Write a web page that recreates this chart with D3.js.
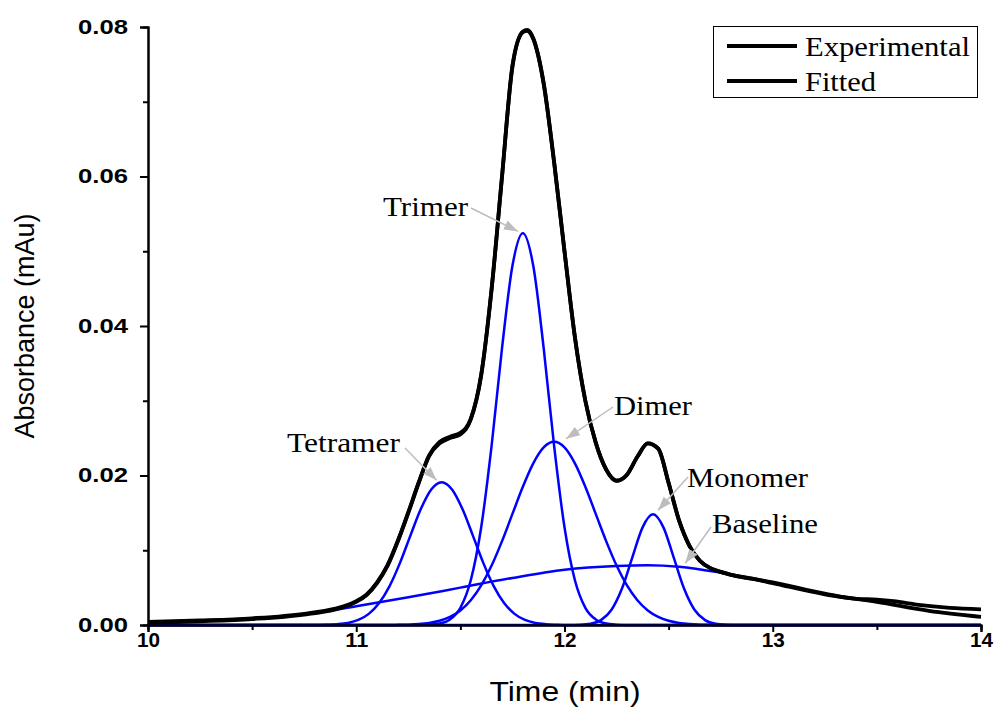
<!DOCTYPE html>
<html>
<head>
<meta charset="utf-8">
<script src="https://cdn.jsdelivr.net/npm/d3@7"></script>
<style>
  html, body { margin: 0; padding: 0; background: #fff; }
  svg { display: block; }
</style>
</head>
<body>
<svg id="chart" width="997" height="713"></svg>
<script>
// Axis ranges and ticks
const timeDomain = [10, 14];
const absDomain = [0, 0.08];
const xMajorTicks = [10, 11, 12, 13, 14];
const xMinorTicks = [10.5, 11.5, 12.5, 13.5];
const yMajorTicks = [0, 0.02, 0.04, 0.06, 0.08];
const yMinorTicks = [0.01, 0.03, 0.05, 0.07];

// Measured trace, [time (min), absorbance]
const experimental = [[10,0.0004],[10.25,0.0006],[10.5,0.0009],[10.75,0.0015],[10.9,0.0022],[10.95,0.0026],[11,0.0032],[11.05,0.0041],[11.1,0.0057],[11.15,0.008],[11.2,0.0113],[11.25,0.0151],[11.3,0.0191],[11.35,0.0227],[11.4,0.0245],[11.45,0.0252],[11.5,0.0257],[11.55,0.0276],[11.6,0.0335],[11.65,0.045],[11.7,0.06],[11.75,0.0748],[11.8,0.0794],[11.82,0.0796],[11.85,0.0785],[11.9,0.0725],[11.95,0.062],[12,0.05],[12.05,0.0385],[12.1,0.03],[12.15,0.0244],[12.2,0.0208],[12.25,0.0193],[12.3,0.0201],[12.35,0.0225],[12.4,0.0243],[12.45,0.0236],[12.5,0.019],[12.55,0.014],[12.6,0.0106],[12.65,0.0086],[12.7,0.0076],[12.75,0.0071],[12.8,0.0067],[12.9,0.0062],[13,0.0057],[13.25,0.0042],[13.4,0.0035],[13.5,0.0034],[13.58,0.0032],[13.7,0.0027],[13.85,0.0023],[14,0.0021]];

// Sum of the fitted components
const fitted = [[10,0.0003],[10.25,0.0005],[10.5,0.0008],[10.75,0.0014],[10.9,0.0021],[10.95,0.0025],[11,0.0031],[11.05,0.004],[11.1,0.0056],[11.15,0.0079],[11.2,0.0112],[11.25,0.015],[11.3,0.019],[11.35,0.0226],[11.4,0.0243],[11.45,0.025],[11.5,0.0255],[11.55,0.0275],[11.6,0.0334],[11.65,0.0449],[11.7,0.06],[11.75,0.0747],[11.8,0.0793],[11.82,0.0795],[11.85,0.0784],[11.9,0.0724],[11.95,0.0619],[12,0.05],[12.05,0.0385],[12.1,0.03],[12.15,0.0244],[12.2,0.0208],[12.25,0.0193],[12.3,0.0201],[12.35,0.0225],[12.4,0.0243],[12.45,0.0236],[12.5,0.019],[12.55,0.014],[12.6,0.0106],[12.65,0.0086],[12.7,0.0076],[12.75,0.0071],[12.8,0.0067],[12.9,0.0062],[13,0.0056],[13.25,0.0041],[13.5,0.0031],[13.75,0.0019],[14,0.0011]];

// Component peaks
const tetramer = [[10,0],[10.81,0],[10.86,0.00004],[10.91,0.00011],[10.96,0.00028],[11.01,0.00068],[11.06,0.00149],[11.11,0.00294],[11.16,0.0052],[11.21,0.00831],[11.26,0.01196],[11.31,0.01551],[11.36,0.01813],[11.41,0.0191],[11.46,0.01813],[11.51,0.01551],[11.56,0.01196],[11.61,0.00831],[11.66,0.0052],[11.71,0.00294],[11.76,0.00149],[11.81,0.00068],[11.86,0.00028],[11.91,0.00011],[11.96,0.00004],[12.01,0],[14,0]];
const trimer = [[10,0],[11.3,0],[11.35,0.00005],[11.4,0.0002],[11.45,0.00075],[11.5,0.0023],[11.55,0.00598],[11.6,0.01307],[11.65,0.02399],[11.7,0.03703],[11.75,0.04805],[11.8,0.0524],[11.85,0.04805],[11.9,0.03703],[11.95,0.02399],[12,0.01307],[12.05,0.00598],[12.1,0.0023],[12.15,0.00075],[12.2,0.0002],[12.25,0.00005],[12.3,0],[14,0]];
const dimer = [[10,0],[11.15,0],[11.2,0.00002],[11.25,0.00005],[11.3,0.00012],[11.35,0.00027],[11.4,0.00056],[11.45,0.00108],[11.5,0.00195],[11.55,0.00332],[11.6,0.0053],[11.65,0.00795],[11.7,0.01122],[11.75,0.01486],[11.8,0.01849],[11.85,0.02162],[11.9,0.02375],[11.95,0.0245],[12,0.02375],[12.05,0.02162],[12.1,0.01849],[12.15,0.01486],[12.2,0.01122],[12.25,0.00795],[12.3,0.0053],[12.35,0.00332],[12.4,0.00195],[12.45,0.00108],[12.5,0.00056],[12.55,0.00027],[12.6,0.00012],[12.65,0.00005],[12.7,0.00002],[12.75,0],[14,0]];
const monomer = [[10,0],[12.025,0],[12.075,0.00003],[12.125,0.00016],[12.175,0.00065],[12.225,0.002],[12.275,0.00481],[12.325,0.00898],[12.375,0.01306],[12.425,0.0148],[12.475,0.01306],[12.525,0.00898],[12.575,0.00481],[12.625,0.002],[12.675,0.00065],[12.725,0.00016],[12.775,0.00003],[12.825,0],[14,0]];
const baseline = [[10,0.0003],[10.25,0.0005],[10.5,0.0008],[10.75,0.0014],[11,0.0025],[11.25,0.0037],[11.5,0.005],[11.75,0.0063],[12,0.0074],[12.25,0.0079],[12.4,0.008],[12.55,0.0078],[12.75,0.007],[13,0.0056],[13.25,0.0041],[13.5,0.0031],[13.75,0.0019],[14,0.0011]];

// Peak labels: name, time and absorbance of the point the arrow points to
const peakNames = ["Trimer", "Tetramer", "Dimer", "Monomer", "Baseline"];
const peakTimes = [11.8, 11.41, 11.95, 12.425, 12.58];
const peakValues = [0.0524, 0.0191, 0.0245, 0.0148, 0.0080];

const legendNames = ["Experimental", "Fitted"];

const svg = d3.select("#chart");
svg.append("rect").attr("width", 997).attr("height", 713).attr("fill", "#fff");

const x = d3.scaleLinear().domain(timeDomain).range([148, 981]);
const y = d3.scaleLinear().domain(absDomain).range([625, 27]);

const line = d3.line()
  .x(d => x(d[0]))
  .y(d => y(d[1]))
  .curve(d3.curveMonotoneX);

// Component curves
const plot = svg.append("g");
[baseline, tetramer, trimer, dimer, monomer].forEach(s => {
  plot.append("path").datum(s)
    .attr("d", line)
    .attr("fill", "none")
    .attr("stroke", "#0000ff")
    .attr("stroke-width", 2.5)
    .attr("stroke-linejoin", "round");
});

// Measured and fitted traces
[experimental, fitted].forEach(s => {
  plot.append("path").datum(s)
    .attr("d", line)
    .attr("fill", "none")
    .attr("stroke", "#000")
    .attr("stroke-width", 3.8)
    .attr("stroke-linejoin", "round");
});

// Axes
const axisFont = "'Liberation Sans', Arial, sans-serif";
const xAxis = svg.append("g").attr("transform", "translate(0,625)")
  .call(d3.axisBottom(x).tickValues(xMajorTicks).tickSize(7).tickFormat(d3.format("d")));
const xMinor = svg.append("g").attr("transform", "translate(0,625)")
  .call(d3.axisBottom(x).tickValues(xMinorTicks).tickSize(5).tickFormat(""));
const yAxis = svg.append("g").attr("transform", "translate(148,0)")
  .call(d3.axisLeft(y).tickValues(yMajorTicks).tickSize(8).tickPadding(12).tickFormat(d3.format(".2f")));
const yMinor = svg.append("g").attr("transform", "translate(148,0)")
  .call(d3.axisLeft(y).tickValues(yMinorTicks).tickSize(5).tickFormat(""));

[xAxis, xMinor, yAxis, yMinor].forEach(g => {
  g.select(".domain").attr("stroke", "#000").attr("stroke-width", 2);
  g.selectAll(".tick line").attr("stroke", "#000").attr("stroke-width", 2);
  g.selectAll(".tick text")
    .attr("fill", "#000")
    .style("font-family", axisFont)
    .style("font-size", "20px")
    .style("font-weight", "bold");
});
yAxis.selectAll(".tick text").attr("textLength", 50).attr("lengthAdjust", "spacingAndGlyphs");
xAxis.selectAll(".tick text")
  .attr("y", 8)
  .attr("textLength", 23).attr("lengthAdjust", "spacingAndGlyphs");

// Axis titles
svg.append("text")
  .attr("x", 565).attr("y", 701)
  .attr("text-anchor", "middle")
  .attr("textLength", 151).attr("lengthAdjust", "spacingAndGlyphs")
  .style("font-family", axisFont)
  .style("font-size", "27px")
  .text("Time (min)");
svg.append("text")
  .attr("transform", "translate(34,326) rotate(-90)")
  .attr("text-anchor", "middle")
  .attr("textLength", 225).attr("lengthAdjust", "spacingAndGlyphs")
  .style("font-family", axisFont)
  .style("font-size", "27px")
  .text("Absorbance (mAu)");

// Legend
const serif = "'Liberation Serif', 'Times New Roman', serif";
const legendWidths = [165, 71];
const legend = svg.append("g");
legend.append("rect")
  .attr("x", 713.5).attr("y", 26.5).attr("width", 264).attr("height", 71)
  .attr("fill", "#fff").attr("stroke", "#000").attr("stroke-width", 1);
legendNames.forEach((name, i) => {
  const ly = 46 + i * 35;
  legend.append("line")
    .attr("x1", 727).attr("x2", 797).attr("y1", ly).attr("y2", ly)
    .attr("stroke", "#000").attr("stroke-width", 4);
  legend.append("text")
    .attr("x", 805).attr("y", ly + 10)
    .attr("textLength", legendWidths[i]).attr("lengthAdjust", "spacingAndGlyphs")
    .style("font-family", serif)
    .style("font-size", "27px")
    .text(name);
});

// Peak annotations with grey arrows
const labelPos = [[383, 216], [287, 452], [614, 415], [687, 487], [712, 533]];
const labelWidths = [85, 113, 78, 121, 106];
const arrowStart = [[471, 208], [405, 448], [613, 407], [688, 477], [711, 527]];
const tipOffset = [[-5, -2], [-5, -2], [12, -3], [5, -4], [0, -2]];
const defs = svg.append("defs");
defs.append("marker")
  .attr("id", "head")
  .attr("viewBox", "0 0 14 10")
  .attr("refX", 14).attr("refY", 5)
  .attr("markerWidth", 14).attr("markerHeight", 10)
  .attr("markerUnits", "userSpaceOnUse")
  .attr("orient", "auto")
  .append("path").attr("d", "M0,0 L14,5 L0,10 Z").attr("fill", "#bdbdbd");

peakNames.forEach((name, i) => {
  const tx = x(peakTimes[i]) + tipOffset[i][0];
  const ty = y(peakValues[i]) + tipOffset[i][1];
  svg.append("line")
    .attr("x1", arrowStart[i][0]).attr("y1", arrowStart[i][1])
    .attr("x2", tx).attr("y2", ty)
    .attr("stroke", "#bdbdbd").attr("stroke-width", 1.5)
    .attr("marker-end", "url(#head)");
  svg.append("text")
    .attr("x", labelPos[i][0]).attr("y", labelPos[i][1])
    .attr("textLength", labelWidths[i]).attr("lengthAdjust", "spacingAndGlyphs")
    .style("font-family", serif)
    .style("font-size", "27px")
    .text(name);
});
</script>
</body>
</html>
